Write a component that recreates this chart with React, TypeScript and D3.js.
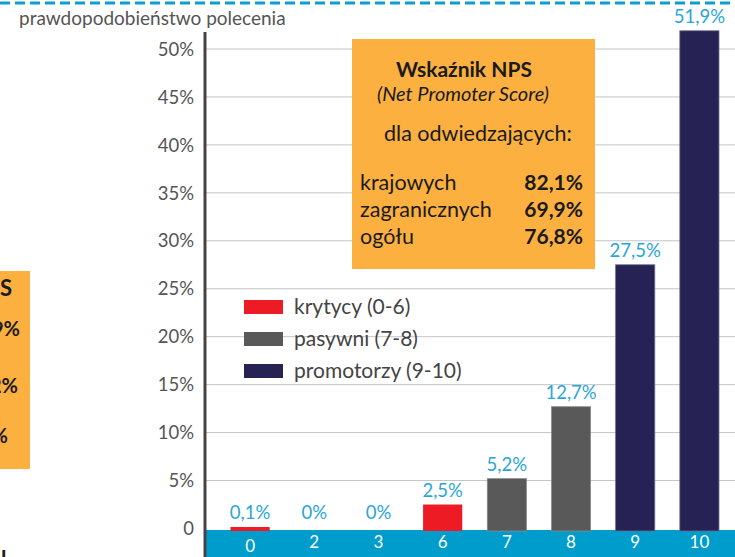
import { useEffect, useRef } from 'react';
import * as d3 from 'd3';

const categories = ['0', '2', '3', '6', '7', '8', '9', '10'];
const values = [0.1, 0, 0, 2.5, 5.2, 12.7, 27.5, 51.9];
const valueLabels = ['0,1%', '0%', '0%', '2,5%', '5,2%', '12,7%', '27,5%', '51,9%'];
const groups = ['krytycy', 'krytycy', 'krytycy', 'krytycy', 'pasywni', 'pasywni', 'promotorzy', 'promotorzy'];
const yTicks = [0, 5, 10, 15, 20, 25, 30, 35, 40, 45, 50];

const legendKeys = ['krytycy', 'pasywni', 'promotorzy'];
const legendLabels = ['krytycy (0-6)', 'pasywni (7-8)', 'promotorzy (9-10)'];

const npsRows = ['krajowych', 'zagranicznych', 'ogółu'];
const npsValues = ['82,1%', '69,9%', '76,8%'];

// fragments of the neighbouring panel, cut off at the left edge
const leftFragments = ['S', '9%', '2%', '%'];

const W = 735;
const H = 557;
const FONT = 'Lato, "Open Sans", sans-serif';

export default function App() {
  const ref = useRef<SVGSVGElement | null>(null);

  useEffect(() => {
    document.body.style.margin = '0';
    const svg = d3.select(ref.current);
    svg.selectAll('*').remove();

    const axisX = 205;
    const y = d3.scaleLinear().domain([0, 50]).range([528.5, 49]);
    const x = d3
      .scaleBand()
      .domain(categories)
      .range([218, 731.5])
      .paddingInner(0.39)
      .paddingOuter(0.195);

    const color = d3
      .scaleOrdinal<string>()
      .domain(legendKeys)
      .range(['#ed1c24', '#595959', '#262254']);
    const edge = d3
      .scaleOrdinal<string>()
      .domain(legendKeys)
      .range(['none', '#8c8c8c', '#6d6a8e']);

    svg.append('rect').attr('width', W).attr('height', H).attr('fill', '#fff');

    // top dashed rule
    svg
      .append('line')
      .attr('x1', 0)
      .attr('x2', W)
      .attr('y1', 3)
      .attr('y2', 3)
      .attr('stroke', '#0a9fd0')
      .attr('stroke-width', 3)
      .attr('stroke-dasharray', '10 5');

    // left neighbour box
    svg.append('rect').attr('x', 0).attr('y', 271).attr('width', 30).attr('height', 198).attr('fill', '#fbb040');
    const fragY = [296, 336, 393, 443];
    const fragX = [12, 20, 18, 8];
    svg
      .selectAll('.frag')
      .data(leftFragments)
      .join('text')
      .attr('class', 'frag')
      .attr('x', (d, i) => fragX[i])
      .attr('y', (d, i) => fragY[i])
      .attr('text-anchor', 'end')
      .attr('font-family', FONT)
      .attr('font-weight', 700)
      .attr('font-size', (d, i) => (i === 0 ? 22 : 20))
      .attr('fill', '#1a1a1a')
      .text((d) => d);
    svg
      .append('text')
      .attr('x', 1)
      .attr('y', 567)
      .attr('font-family', FONT)
      .attr('font-weight', 700)
      .attr('font-size', 22)
      .attr('fill', '#1a1a1a')
      .text('l');

    // title
    svg
      .append('text')
      .attr('x', 19)
      .attr('y', 25)
      .attr('font-family', FONT)
      .attr('font-size', 19)
      .attr('fill', '#555')
      .text('prawdopodobieństwo polecenia');

    // grid
    svg
      .selectAll('.grid')
      .data(yTicks.slice(1))
      .join('line')
      .attr('class', 'grid')
      .attr('x1', axisX)
      .attr('x2', W)
      .attr('y1', (d) => y(d))
      .attr('y2', (d) => y(d))
      .attr('stroke', '#c4c4c4')
      .attr('stroke-width', 1);

    // y tick labels
    svg
      .selectAll('.ytick')
      .data(yTicks)
      .join('text')
      .attr('class', 'ytick')
      .attr('x', 194)
      .attr('y', (d) => y(d))
      .attr('dy', '0.36em')
      .attr('text-anchor', 'end')
      .attr('font-family', FONT)
      .attr('font-size', 18.5)
      .attr('fill', '#555')
      .text((d) => (d === 0 ? '0' : `${d}%`));

    // NPS box
    const box = svg.append('g');
    box.append('rect').attr('x', 352).attr('y', 39).attr('width', 243).attr('height', 230).attr('fill', '#fbb040');
    box
      .append('text')
      .attr('x', 464)
      .attr('y', 77)
      .attr('text-anchor', 'middle')
      .attr('font-family', FONT)
      .attr('font-weight', 700)
      .attr('font-size', 21)
      .attr('fill', '#1a1a1a')
      .text('Wskaźnik NPS');
    box
      .append('text')
      .attr('x', 463)
      .attr('y', 101)
      .attr('text-anchor', 'middle')
      .attr('font-family', FONT)
      .attr('font-style', 'italic')
      .attr('font-size', 20)
      .attr('fill', '#1a1a1a')
      .text('(Net Promoter Score)');
    box
      .append('text')
      .attr('x', 478)
      .attr('y', 141)
      .attr('text-anchor', 'middle')
      .attr('font-family', FONT)
      .attr('font-size', 21.5)
      .attr('fill', '#1a1a1a')
      .text('dla odwiedzających:');
    const rowY = d3.scalePoint().domain(npsRows).range([190, 244]);
    box
      .selectAll('.nps-label')
      .data(npsRows)
      .join('text')
      .attr('class', 'nps-label')
      .attr('x', 360)
      .attr('y', (d) => rowY(d) ?? 0)
      .attr('font-family', FONT)
      .attr('font-size', 21.5)
      .attr('fill', '#1a1a1a')
      .text((d) => d);
    box
      .selectAll('.nps-value')
      .data(npsValues)
      .join('text')
      .attr('class', 'nps-value')
      .attr('x', 583)
      .attr('y', (d, i) => rowY(npsRows[i]) ?? 0)
      .attr('text-anchor', 'end')
      .attr('font-family', FONT)
      .attr('font-weight', 700)
      .attr('font-size', 21)
      .attr('fill', '#1a1a1a')
      .text((d) => d);

    // legend
    const legY = d3.scalePoint().domain(legendKeys).range([307, 371]);
    const leg = svg
      .selectAll('.legend')
      .data(legendKeys)
      .join('g')
      .attr('class', 'legend')
      .attr('transform', (d) => `translate(244, ${legY(d) ?? 0})`);
    leg.append('rect').attr('y', -7).attr('width', 39).attr('height', 14).attr('fill', (d) => color(d));
    leg
      .append('text')
      .attr('x', 50)
      .attr('dy', '0.33em')
      .attr('font-family', FONT)
      .attr('font-size', 21)
      .attr('fill', '#444')
      .text((d, i) => legendLabels[i]);

    // bottom band
    const base = y(0) + 1.5;
    svg.append('rect').attr('x', axisX).attr('y', base).attr('width', W - axisX).attr('height', H - base).attr('fill', '#009ccc');

    // bars
    svg
      .selectAll('.bar')
      .data(values)
      .join('rect')
      .attr('class', 'bar')
      .attr('x', (d, i) => x(categories[i]) ?? 0)
      .attr('width', x.bandwidth())
      .attr('y', (d) => (d > 0 ? Math.min(y(d), y(0) - 1.5) : base))
      .attr('height', (d) => (d > 0 ? base - Math.min(y(d), y(0) - 1.5) + 1 : 0))
      .attr('fill', (d, i) => color(groups[i]))
      .attr('stroke', (d, i) => edge(groups[i]))
      .attr('stroke-width', 0.8);

    // value labels
    svg
      .selectAll('.vlabel')
      .data(values)
      .join('text')
      .attr('class', 'vlabel')
      .attr('x', (d, i) => (x(categories[i]) ?? 0) + x.bandwidth() / 2)
      .attr('y', (d) => Math.min(y(d), y(0) - 1.5) - 8)
      .attr('text-anchor', 'middle')
      .attr('font-family', FONT)
      .attr('font-size', 18.5)
      .attr('fill', '#29a6d8')
      .text((d, i) => valueLabels[i]);

    // x labels
    svg
      .selectAll('.xlabel')
      .data(categories)
      .join('text')
      .attr('class', 'xlabel')
      .attr('x', (d) => (x(d) ?? 0) + x.bandwidth() / 2)
      .attr('y', (d, i) => (i === 0 ? 552 : 548))
      .attr('text-anchor', 'middle')
      .attr('font-family', FONT)
      .attr('font-size', 17)
      .attr('fill', '#fff')
      .text((d) => d);

    // y axis line
    svg
      .append('line')
      .attr('x1', axisX)
      .attr('x2', axisX)
      .attr('y1', 32)
      .attr('y2', H)
      .attr('stroke', '#444')
      .attr('stroke-width', 3);
  }, []);

  return <svg ref={ref} width={W} height={H} style={{ display: 'block' }} />;
}
